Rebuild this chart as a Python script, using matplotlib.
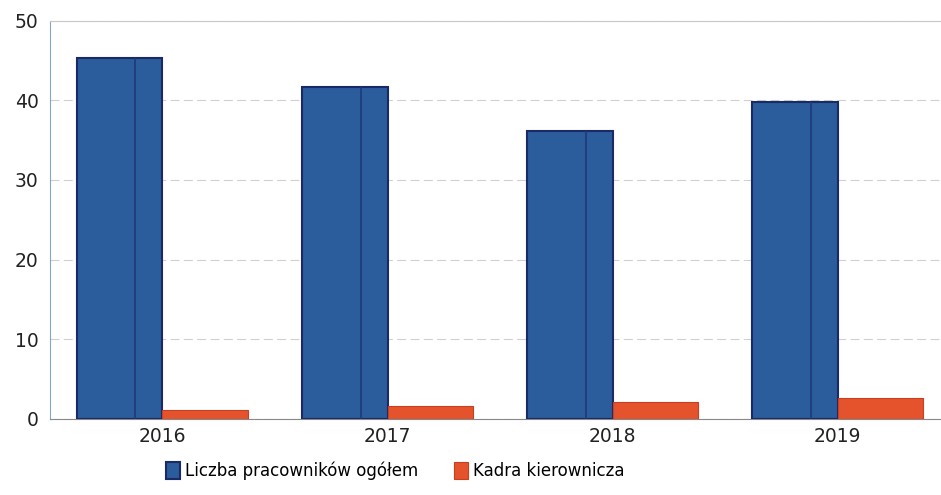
import numpy as np
import matplotlib.pyplot as plt

years = ['2016', '2017', '2018', '2019']
total_staff = [45.3, 41.7, 36.2, 39.8]
management = [1.1, 1.6, 2.1, 2.6]

labels = ['Liczba pracowników ogółem', 'Kadra kierownicza']
colors = ['#2b5c9c', '#e4532c']
edges = ['#1a2a66', '#c8401f']

fig = plt.figure(figsize=(9.41, 4.95), dpi=100)
ax = fig.add_axes([0.053, 0.154, 0.957, 0.804])

x = np.arange(len(years))
w = 0.38
ax.bar(x - w / 2, total_staff, w, color=colors[0], edgecolor=edges[0],
       linewidth=1.5, label=labels[0], zorder=3)
# darker seam giving the bars their shaded, cylinder-like look
ax.vlines(x - w / 2 + 0.07, 0, total_staff, color='#1e3a78', linewidth=1.2, zorder=4)
ax.bar(x + w / 2, management, w, color=colors[1], edgecolor=edges[1],
       linewidth=0.8, label=labels[1], zorder=3)

ax.set_xlim(-0.5, 3.5)
ax.set_ylim(0, 50)
ax.set_yticks([0, 10, 20, 30, 40, 50])
ax.set_xticks(x)
ax.set_xticklabels(years)
ax.tick_params(axis='both', length=0, labelsize=13.5, colors='#222222')
ax.tick_params(axis='y', pad=8)
ax.tick_params(axis='x', pad=6)

ax.yaxis.grid(True, color='#d0d0d0', linestyle=(0, (8, 4)), linewidth=0.8, zorder=0)
ax.spines['right'].set_visible(False)
ax.spines['top'].set_color('#c8c8c8')
ax.spines['left'].set_color('#8aa4c0')
ax.spines['bottom'].set_color('#888888')

fig.legend(loc='lower center', bbox_to_anchor=(0.42, 0.0), ncol=2, frameon=False,
           fontsize=12, handlelength=0.8, handleheight=1.2, handletextpad=0.3,
           columnspacing=2.2)

fig.savefig('out.png', dpi=100)
